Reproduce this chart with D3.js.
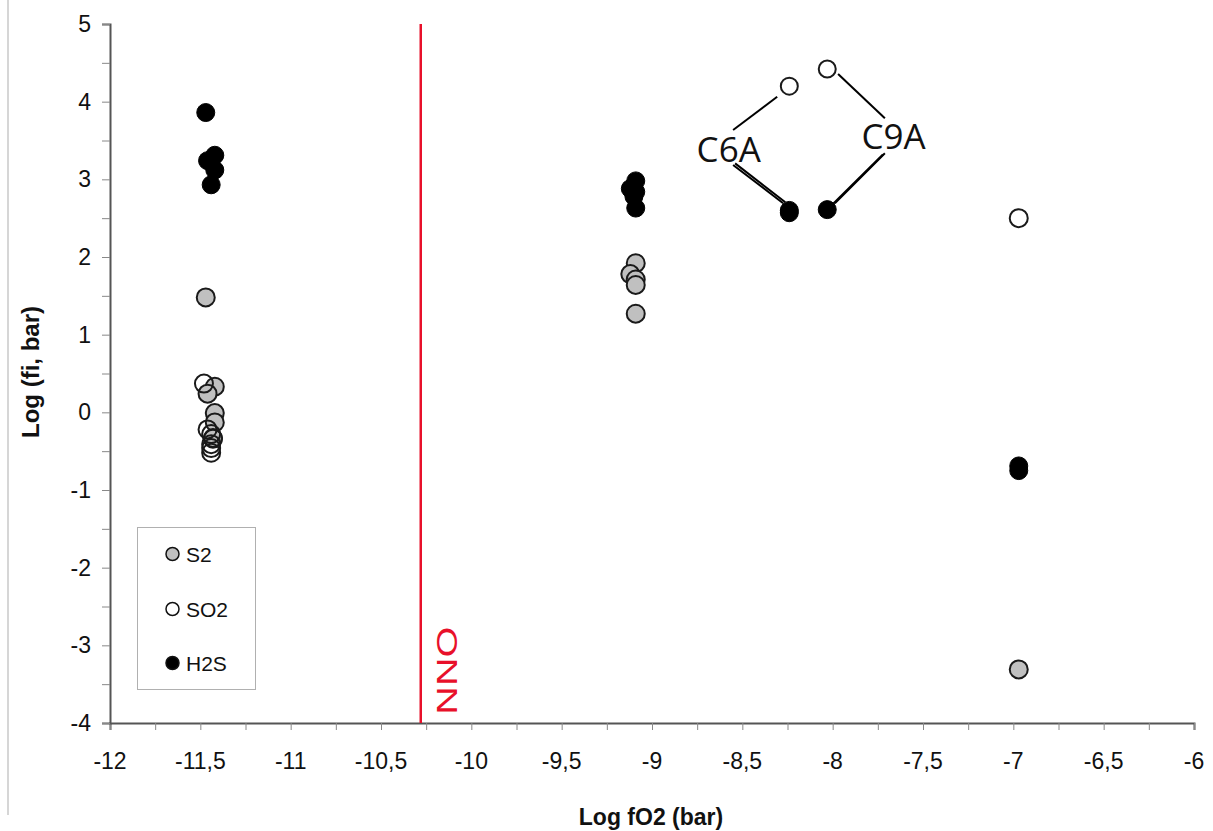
<!DOCTYPE html>
<html><head><meta charset="utf-8">
<script src="https://cdn.jsdelivr.net/npm/d3@7"></script>
<style>html,body{margin:0;padding:0;background:#fff}</style>
</head><body>
<svg id="c" width="1213" height="831"></svg>
<script>
// ---- data ----
const xTicks = [-12, -11.5, -11, -10.5, -10, -9.5, -9, -8.5, -8, -7.5, -7, -6.5, -6];
const yTicks = [-4, -3, -2, -1, 0, 1, 2, 3, 4, 5];
const s2X = [-11.47, -11.42, -11.46, -11.42, -11.42, -11.43, -9.09, -9.12, -9.09, -9.09, -9.09, -6.97];
const s2Y = [1.48, 0.33, 0.24, -0.01, -0.13, -0.33, 1.92, 1.78, 1.71, 1.64, 1.27, -3.31];
const so2X = [-11.48, -11.46, -11.44, -11.43, -11.44, -11.44, -11.44, -8.24, -8.03, -6.97];
const so2Y = [0.37, -0.22, -0.28, -0.34, -0.41, -0.46, -0.52, 4.20, 4.42, 2.50];
const h2sX = [-11.47, -11.46, -11.42, -11.42, -11.44, -9.09, -9.12, -9.09, -9.10, -9.09, -8.24, -8.24, -8.03, -6.97, -6.97];
const h2sY = [3.86, 3.24, 3.31, 3.12, 2.93, 2.98, 2.88, 2.84, 2.78, 2.63, 2.60, 2.57, 2.61, -0.69, -0.75];
const nno = -10.28;
const annLabels = ["C6A", "C9A"];
const annLabelX = [-8.753, -7.840];
const annLabelY = [3.228, 3.387];
// leader segments [x1,y1,x2,y2]
const leaders = [
  [-8.551, 3.636, -8.307, 4.064],
  [-8.551, 3.185, -8.274, 2.692],
  [-8.540, 3.205, -8.262, 2.705],
  [-7.970, 4.357, -7.711, 3.786],
  [-7.711, 3.336, -7.988, 2.692],
  [-7.722, 3.320, -8.000, 2.680]
];
const legendNames = ["S2", "SO2", "H2S"];

// ---- chart ----
const svg = d3.select("#c");
const x = d3.scaleLinear().domain([-12, -6]).range([110, 1194]);
const y = d3.scaleLinear().domain([-4, 5]).range([723, 24]);
const axisCol = "#555";
const FONT = "Liberation Sans, Arial, sans-serif";

// left frame line
svg.append("line").attr("x1", 8).attr("x2", 8).attr("y1", 0).attr("y2", 815)
  .attr("stroke", "#c8c8c8").attr("stroke-width", 1.5);

// x axis
const xMinor = d3.range(-12, -5.99, 0.25);
const xa = svg.append("g").attr("transform", `translate(0,${y(-4)})`)
  .call(d3.axisBottom(x).tickValues(xMinor).tickSize(7).tickFormat(""));
xa.select(".domain").attr("stroke", axisCol).attr("stroke-width", 2);
xa.selectAll(".tick line").attr("stroke", "#888").attr("stroke-width", 1);
svg.append("g").selectAll("text").data(xTicks).join("text")
  .attr("x", d => x(d)).attr("y", 769).attr("text-anchor", "middle")
  .attr("font-family", FONT).attr("font-size", 23)
  .attr("fill", "#111").text(d => String(d).replace(".", ","));

// y axis
const yMinor = d3.range(-4, 5.01, 0.5);
const ya = svg.append("g").attr("transform", `translate(${x(-12)},0)`)
  .call(d3.axisLeft(y).tickValues(yMinor).tickSize(8).tickFormat(""));
ya.select(".domain").attr("stroke", axisCol).attr("stroke-width", 2);
ya.selectAll(".tick line").attr("stroke", "#888").attr("stroke-width", 1);
svg.append("g").selectAll("text").data(yTicks).join("text")
  .attr("x", 91).attr("y", d => y(d) + 8).attr("text-anchor", "end")
  .attr("font-family", FONT).attr("font-size", 23)
  .attr("fill", "#111").text(d => d);

// axis titles
svg.append("text").attr("x", 651).attr("y", 825).attr("text-anchor", "middle")
  .attr("font-family", FONT).attr("font-weight", "bold")
  .attr("font-size", 23).attr("fill", "#111").text("Log fO2 (bar)");
svg.append("text").attr("transform", "translate(39,372) rotate(-90)").attr("text-anchor", "middle")
  .attr("font-family", FONT).attr("font-weight", "bold")
  .attr("font-size", 24).attr("fill", "#111").text("Log (fi, bar)");

// NNO line
svg.append("line").attr("x1", x(nno)).attr("x2", x(nno)).attr("y1", y(5)).attr("y2", y(-4))
  .attr("stroke", "#e8102a").attr("stroke-width", 2.5);
svg.append("text").attr("transform", `translate(${x(-10.081)},${y(-3.893)}) rotate(-90)`)
  .attr("font-family", FONT).attr("font-size", 30)
  .attr("textLength", 88).attr("lengthAdjust", "spacingAndGlyphs")
  .attr("fill", "#e8102a").text("NNO");

// leaders
svg.append("g").selectAll("line").data(leaders).join("line")
  .attr("x1", d => x(d[0])).attr("y1", d => y(d[1]))
  .attr("x2", d => x(d[2])).attr("y2", d => y(d[3]))
  .attr("stroke", "#000").attr("stroke-width", 2);

// points
const R = 9;
const pts = (xs, ys) => xs.map((v, i) => [v, ys[i]]);
svg.append("g").selectAll("circle").data(pts(s2X, s2Y)).join("circle")
  .attr("cx", d => x(d[0])).attr("cy", d => y(d[1])).attr("r", R)
  .attr("fill", "#c0c0c0").attr("stroke", "#1a1a1a").attr("stroke-width", 2);
svg.append("g").selectAll("circle").data(pts(so2X, so2Y)).join("circle")
  .attr("cx", d => x(d[0])).attr("cy", d => y(d[1])).attr("r", d => d[1] > 4 ? 8.5 : R)
  .attr("fill", d => d[1] > 2 ? "#fff" : "none").attr("stroke", "#1a1a1a").attr("stroke-width", 2);
svg.append("g").selectAll("circle").data(pts(h2sX, h2sY)).join("circle")
  .attr("cx", d => x(d[0])).attr("cy", d => y(d[1])).attr("r", R)
  .attr("fill", "#000").attr("stroke", "#000").attr("stroke-width", 1);

// annotation labels
svg.append("g").selectAll("text").data(annLabels).join("text")
  .attr("x", (d, i) => x(annLabelX[i])).attr("y", (d, i) => y(annLabelY[i]))
  .attr("font-family", "Open Sans, Noto Sans, sans-serif").attr("font-size", 35)
  .attr("fill", "#111").text(d => d);

// legend
const lg = svg.append("g");
lg.append("rect").attr("x", 137.5).attr("y", 527.5).attr("width", 118).attr("height", 162)
  .attr("fill", "#fff").attr("stroke", "#b0b0b0").attr("stroke-width", 1);
const lFill = ["#c0c0c0", "#fff", "#000"];
const lY = [554, 609, 663];
legendNames.forEach((n, i) => {
  lg.append("circle").attr("cx", 172.5).attr("cy", lY[i]).attr("r", 6.5)
    .attr("fill", lFill[i]).attr("stroke", "#111").attr("stroke-width", 1.5);
  lg.append("text").attr("x", 186).attr("y", lY[i] + 7.5)
    .attr("font-family", FONT).attr("font-size", 21)
    .attr("fill", "#111").text(n);
});
</script>
</body></html>
